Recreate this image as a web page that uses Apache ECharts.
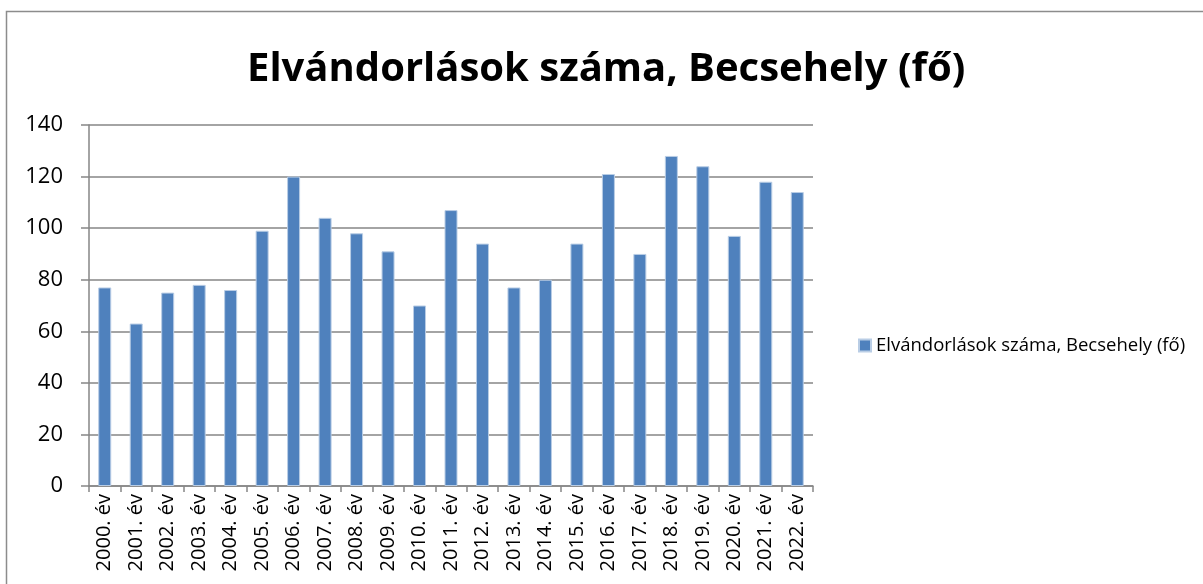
<!DOCTYPE html>
<html>
<head>
<meta charset="utf-8">
<script src="https://cdn.jsdelivr.net/npm/echarts@6/dist/echarts.min.js"></script>
<style>
  html, body { margin: 0; padding: 0; background: #fff; }
  #chart { width: 1203px; height: 584px; }
</style>
</head>
<body>
<div id="chart"></div>
<script>
var myChart = echarts.init(document.getElementById('chart'));

var seriesName = 'Elvándorlások száma, Becsehely (fő)';
var years = ['2000. év', '2001. év', '2002. év', '2003. év', '2004. év', '2005. év',
    '2006. év', '2007. év', '2008. év', '2009. év', '2010. év', '2011. év',
    '2012. év', '2013. év', '2014. év', '2015. év', '2016. év', '2017. év',
    '2018. év', '2019. év', '2020. év', '2021. év', '2022. év'];
var values = [77, 63, 75, 78, 76, 99, 120, 104, 98, 91, 70, 107,
    94, 77, 80, 94, 121, 90, 128, 124, 97, 118, 114];

var fontFamily = 'Open Sans, Liberation Sans, sans-serif';

myChart.setOption({
    backgroundColor: '#fff',
    animation: false,
    graphic: [{
        type: 'rect',
        shape: {x: 6.5, y: 11.5, width: 1220, height: 600},
        style: {fill: 'none', stroke: '#8c8c8c', lineWidth: 1.5},
        silent: true
    }],
    title: {
        text: 'Elvándorlások száma, Becsehely (fő)',
        left: 242,
        top: 45,
        textStyle: {
            fontFamily: fontFamily,
            fontWeight: 'bold',
            fontSize: 40,
            color: '#000'
        }
    },
    legend: {
        orient: 'vertical',
        left: 853,
        top: 331,
        itemWidth: 12,
        itemHeight: 12,
        itemGap: 6,
        icon: 'rect',
        textStyle: {
            fontFamily: fontFamily,
            fontSize: 18.5,
            color: '#000'
        },
        data: [seriesName]
    },
    grid: {
        left: 89,
        right: 390,
        top: 125,
        bottom: 98,
        containLabel: false
    },
    xAxis: {
        type: 'category',
        data: years,
        axisLine: {lineStyle: {color: '#868686', width: 1.5}},
        axisTick: {show: true, length: 6, lineStyle: {color: '#868686', width: 1.5}},
        axisLabel: {
            rotate: 90,
            interval: 0,
            margin: 8,
            fontFamily: fontFamily,
            fontSize: 20,
            color: '#000'
        }
    },
    yAxis: {
        type: 'value',
        min: 0,
        max: 140,
        interval: 20,
        axisLine: {show: true, lineStyle: {color: '#868686', width: 1.5}},
        axisTick: {show: true, length: 8, lineStyle: {color: '#868686', width: 1.5}},
        splitLine: {lineStyle: {color: '#868686', width: 1.5}},
        axisLabel: {
            margin: 26,
            fontFamily: fontFamily,
            fontSize: 22,
            color: '#000'
        }
    },
    series: [{
        name: seriesName,
        type: 'bar',
        data: values,
        barWidth: 13,
        itemStyle: {
            color: '#4f81bd',
            borderColor: '#b9cde5',
            borderWidth: 1
        }
    }]
});
</script>
</body>
</html>
